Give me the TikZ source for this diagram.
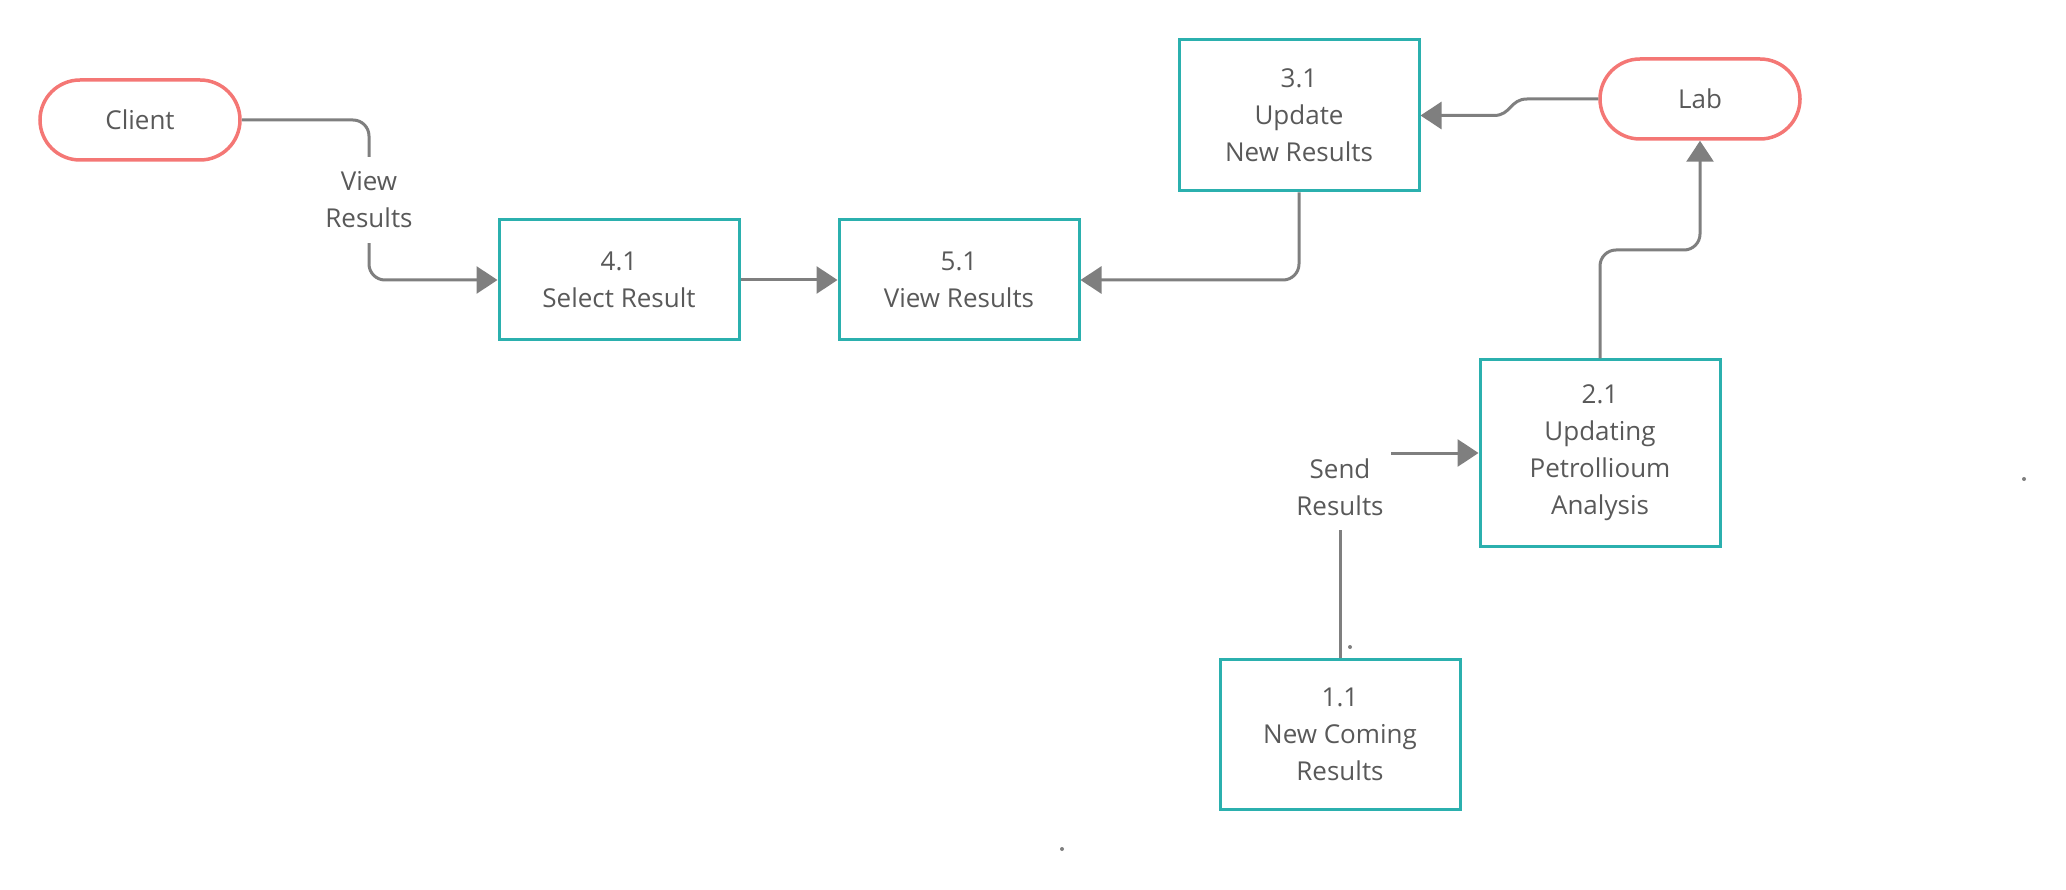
\documentclass[tikz,border=0pt]{standalone}
\usepackage{fontspec}
\setmainfont{Open Sans}
\usetikzlibrary{arrows.meta}
\definecolor{teal1}{HTML}{2BB0AE}
\definecolor{salmon}{HTML}{F47775}
\definecolor{lgrey}{HTML}{7F7F7F}
\definecolor{tgrey}{HTML}{595959}
\begin{document}
\begin{tikzpicture}[x=1pt,y=-1pt,
 every node/.style={font=\fontsize{26}{37}\selectfont, text=tgrey, align=center},
 procbox/.style={draw=teal1, line width=3pt, minimum width=240pt, inner sep=0pt},
 term/.style={draw=salmon, line width=3.5pt, rounded corners=40pt, minimum width=200pt, minimum height=80pt, inner sep=0pt},
 flow/.style={draw=lgrey, line width=3pt, rounded corners=16pt},
 tip/.style={-{Triangle[length=21pt,width=27pt]}},
 lbl/.style={inner sep=0pt}]
\path[use as bounding box] (0,0) rectangle (2066,890);

\node[term] (client) at (140,120) {Client};
\node[term] (lab) at (1700,99) {Lab};

\node[procbox, minimum height=151pt] (n31) at (1299,115.5) {3.1\\Update\\New Results};
\node[procbox, minimum height=120pt] (n41) at (619,280) {4.1\\Select Result};
\node[procbox, minimum height=120pt] (n51) at (959,280) {5.1\\View Results};
\node[procbox, minimum height=186pt] (n21) at (1600,453) {2.1\\Updating\\Petrollioum\\Analysis};
\node[procbox, minimum height=150pt] (n11) at (1340,734) {1.1\\New Coming\\Results};

\node[lbl, minimum height=86pt] (viewlbl) at (369,200) {View\\Results};
\node[lbl, minimum height=86pt, minimum width=102pt] (sendlbl) at (1340,487) {Send\\Results};

% Client -> 4.1
\draw[flow] (client.east) -| (viewlbl.north);
\draw[flow, tip] (viewlbl.south) |- (n41.west);
% 4.1 -> 5.1
\draw[flow, tip] (n41.east) -- (n51.west);
% 3.1 -> 5.1
\draw[flow, tip] (n31.south) |- (n51.east);
% Lab -> 3.1
\coordinate (lb1) at (1527,99);
\coordinate (lb2) at (1494,115.5);
\draw[flow, sharp corners, tip] (lab.west) -- (lb1) .. controls (1510,99) and (1511,115.5) .. (lb2) -- (n31.east);
% 2.1 -> Lab
\coordinate (lk) at (1600,250);
\draw[flow, tip] (n21.north) -- (lk) -| (lab.south);
% 1.1 -> 2.1 (Send Results)
\draw[flow] (n11.north) -- (sendlbl.south);
\draw[flow, tip] (sendlbl.east |- n21.west) -- (n21.west);

% stray dots
\fill[lgrey] (1350,647) circle (2pt);
\fill[lgrey] (2024,479) circle (2pt);
\fill[lgrey] (1062,849) circle (2pt);
\end{tikzpicture}
\end{document}
